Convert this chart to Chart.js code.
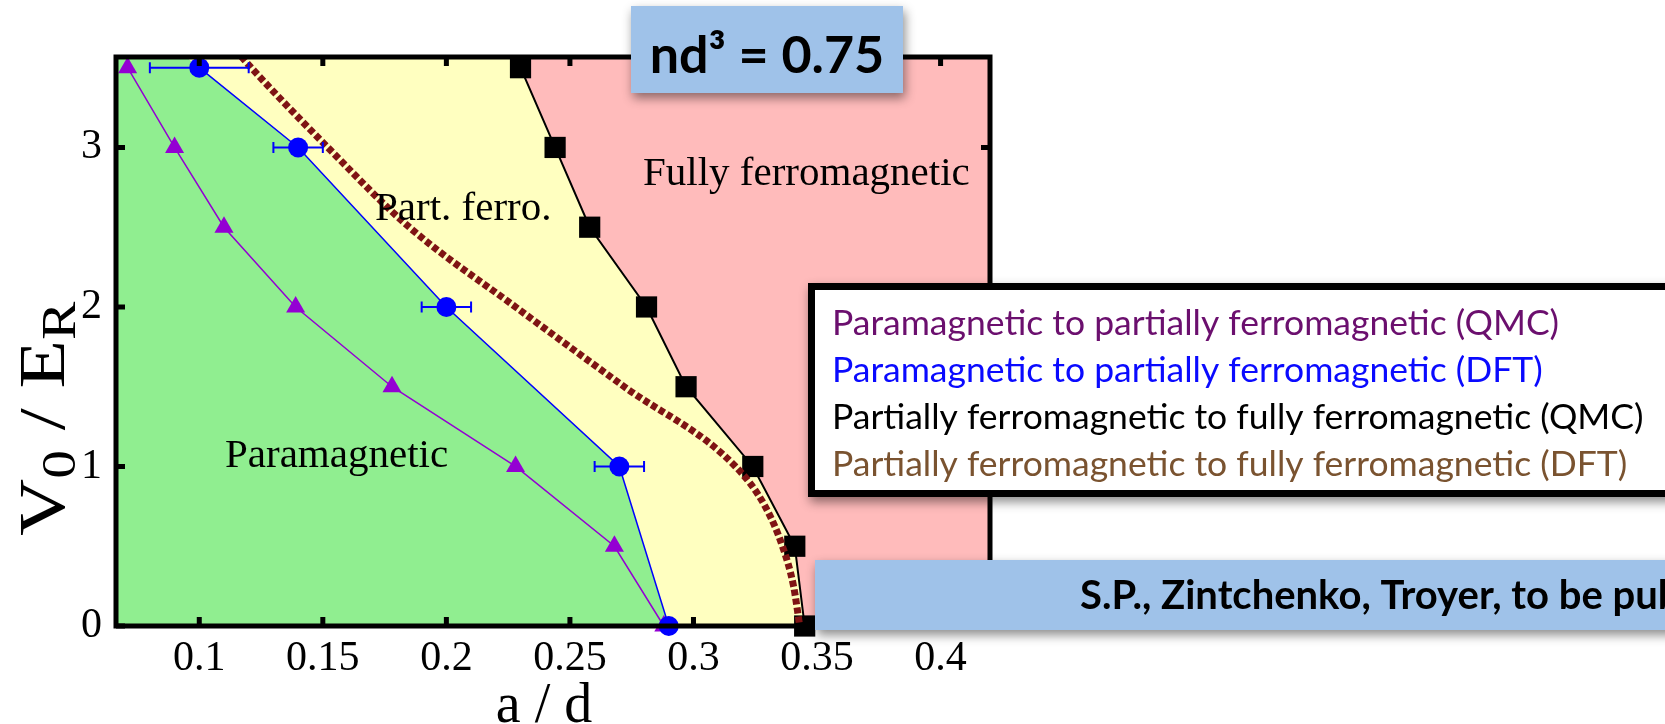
<!DOCTYPE html>
<html>
<head>
<meta charset="utf-8">
<script src="https://cdn.jsdelivr.net/npm/chart.js@4.4.1/dist/chart.umd.min.js"></script>
<style>
html, body { margin: 0; padding: 0; background: #fff; }
canvas { display: block; }
</style>
</head>
<body>
<canvas id="phase" width="1665" height="724"></canvas>
<script>
// ===== DONNEES =====
const xMin = 0.0663, xMax = 0.42
const yMin = 0, yMax = 3.567
const xTicks = [0.1, 0.15, 0.2, 0.25, 0.3, 0.35, 0.4]
const yTicks = [0, 1, 2, 3]

// para -> partiellement ferro (QMC), triangles violets
const qmcParaX = [0.071, 0.09, 0.11, 0.139, 0.178, 0.228, 0.268, 0.288]
const qmcParaY = [3.5, 3, 2.5, 2, 1.5, 1, 0.5, 0]
// para -> partiellement ferro (DFT), cercles bleus + barres d'erreur
const dftParaX = [0.1, 0.14, 0.2, 0.27, 0.29]
const dftParaY = [3.5, 3, 2, 1, 0]
const dftParaErr = [0.02, 0.01, 0.01, 0.01, 0]
// partiellement -> totalement ferro (QMC), carres noirs
const qmcFerroX = [0.23, 0.244, 0.258, 0.281, 0.297, 0.324, 0.341, 0.345]
const qmcFerroY = [3.5, 3, 2.5, 2, 1.5, 1, 0.5, 0]
// partiellement -> totalement ferro (DFT), courbe pointillee
const dftFerroX = [0.117, 0.121, 0.152, 0.185, 0.228, 0.272, 0.317, 0.329, 0.336, 0.3405, 0.343]
const dftFerroY = [3.57, 3.5, 3, 2.5, 2, 1.5, 1, 0.75, 0.5, 0.25, 0]

const legendeTextes = [
    'Paramagnetic to partially ferromagnetic (QMC)',
    'Paramagnetic to partially ferromagnetic (DFT)',
    'Partially ferromagnetic to fully ferromagnetic (QMC)',
    'Partially ferromagnetic to fully ferromagnetic (DFT)'
]
const legendeCouleurs = ['#6b0f6e', '#0a0aff', '#000000', '#7a5330']

const serif = '"Liberation Serif", "Times New Roman", serif'
const sans = 'Lato, "Open Sans", sans-serif'

function points(xs, ys) {
    return xs.map((x, i) => ({ x: x, y: ys[i] }))
}

// zone remplie sous une frontiere, prolongee jusqu'au bord haut du cadre
function zone(xs, ys) {
    const pente = (xs[0] - xs[1]) / (ys[0] - ys[1])
    const xHaut = xs[0] + pente * (yMax - ys[0])
    return [{ x: xMin, y: yMax }, { x: xHaut, y: yMax }].concat(points(xs, ys))
}

// ===== PLUGINS =====
const fond = {
    id: 'fond',
    beforeDatasetsDraw(chart) {
        const { ctx, chartArea: a } = chart
        ctx.save()
        ctx.fillStyle = '#ffbbbb'
        ctx.fillRect(a.left, a.top, a.right - a.left, a.bottom - a.top)
        ctx.restore()
    }
}

const barresErreur = {
    id: 'barresErreur',
    afterDatasetsDraw(chart) {
        const { ctx, scales: { x, y } } = chart
        ctx.save()
        ctx.strokeStyle = '#0000ff'
        ctx.lineWidth = 2
        dftParaX.forEach((v, i) => {
            const e = dftParaErr[i]
            if (!e) return
            const x1 = x.getPixelForValue(v - e)
            const x2 = x.getPixelForValue(v + e)
            const py = y.getPixelForValue(dftParaY[i])
            ctx.beginPath()
            ctx.moveTo(x1, py); ctx.lineTo(x2, py)
            ctx.moveTo(x1, py - 5.5); ctx.lineTo(x1, py + 5.5)
            ctx.moveTo(x2, py - 5.5); ctx.lineTo(x2, py + 5.5)
            ctx.stroke()
        })
        ctx.restore()
    }
}

const cadre = {
    id: 'cadre',
    afterDatasetsDraw(chart) {
        const { ctx, chartArea: a, scales: { x, y } } = chart
        ctx.save()
        ctx.strokeStyle = '#000'
        ctx.lineWidth = 5
        ctx.strokeRect(a.left, a.top, a.right - a.left, a.bottom - a.top)
        // petites graduations vers l'interieur, sur les 4 cotes
        ctx.beginPath()
        xTicks.forEach(v => {
            const px = x.getPixelForValue(v)
            ctx.moveTo(px, a.bottom); ctx.lineTo(px, a.bottom - 9)
            ctx.moveTo(px, a.top); ctx.lineTo(px, a.top + 9)
        })
        yTicks.forEach(v => {
            const py = y.getPixelForValue(v)
            ctx.moveTo(a.left, py); ctx.lineTo(a.left + 9, py)
            ctx.moveTo(a.right, py); ctx.lineTo(a.right - 9, py)
        })
        ctx.stroke()

        // noms des zones
        ctx.fillStyle = '#000'
        ctx.font = '41px ' + serif
        ctx.textBaseline = 'alphabetic'
        ctx.textAlign = 'left'
        ctx.fillText('Part. ferro.', 375, 220)
        ctx.fillText('Fully ferromagnetic', 643, 185)
        ctx.fillText('Paramagnetic', 225, 467)
        ctx.restore()
    }
}

function boiteOmbre(ctx, x, y, w, h, couleur) {
    ctx.save()
    ctx.shadowColor = 'rgba(0,0,0,0.45)'
    ctx.shadowBlur = 10
    ctx.shadowOffsetX = 2
    ctx.shadowOffsetY = 5
    ctx.fillStyle = couleur
    ctx.fillRect(x, y, w, h)
    ctx.restore()
}

const annotations = {
    id: 'annotations',
    afterDraw(chart) {
        const ctx = chart.ctx
        ctx.save()

        // titre de l'axe y : V0 / ER
        ctx.save()
        ctx.translate(64, 536)
        ctx.rotate(-Math.PI / 2)
        ctx.scale(1.2, 1)
        ctx.fillStyle = '#000'
        ctx.textBaseline = 'alphabetic'
        let pos = 0
        const morceaux = [['V', 66, 0], ['0', 48, 11], [' / ', 66, 0], ['E', 66, 0], ['R', 48, 11]]
        morceaux.forEach(m => {
            ctx.font = m[1] + 'px ' + serif
            ctx.fillText(m[0], pos, m[2])
            pos += ctx.measureText(m[0]).width
        })
        ctx.restore()

        // titre de l'axe x
        ctx.fillStyle = '#000'
        ctx.font = '56px ' + serif
        ctx.textAlign = 'center'
        ctx.textBaseline = 'alphabetic'
        ctx.fillText('a / d', 544, 722)

        // encadre nd3
        boiteOmbre(ctx, 631, 6, 272, 87, '#9fc2e9')
        ctx.fillStyle = '#000'
        ctx.font = 'bold 52px ' + sans
        ctx.fillText('nd³ = 0.75', 767, 73)

        // legende
        boiteOmbre(ctx, 808, 283, 900, 214, '#ffffff')
        ctx.strokeStyle = '#000'
        ctx.lineWidth = 7
        ctx.strokeRect(811.5, 286.5, 900, 207)
        ctx.textAlign = 'left'
        ctx.textBaseline = 'middle'
        ctx.font = '35.5px ' + sans
        legendeTextes.forEach((t, i) => {
            ctx.fillStyle = legendeCouleurs[i]
            ctx.fillText(t, 832, 324 + i * 46.7)
        })

        // reference
        boiteOmbre(ctx, 815, 560, 900, 70, '#9fc2e9')
        ctx.fillStyle = '#000'
        ctx.font = 'bold 40px ' + sans
        ctx.fillText('S.P., Zintchenko, Troyer, to be published', 1080, 596)

        ctx.restore()
    }
}

// ===== GRAPHIQUE =====
const tickFont = { family: serif, size: 42 }

new Chart(document.getElementById('phase'), {
    type: 'line',
    data: {
        datasets: [
            {
                label: 'zone partiellement ferro',
                data: zone(qmcFerroX, qmcFerroY),
                backgroundColor: '#ffffc0',
                borderColor: 'transparent',
                borderWidth: 0,
                pointRadius: 0,
                fill: 'start',
                order: 20
            },
            {
                label: 'zone para',
                data: zone(dftParaX, dftParaY),
                backgroundColor: '#90ee90',
                borderColor: 'transparent',
                borderWidth: 0,
                pointRadius: 0,
                fill: 'start',
                order: 19
            },
            {
                label: legendeTextes[0],
                data: points(qmcParaX, qmcParaY),
                borderColor: '#9400d3',
                borderWidth: 1.5,
                pointStyle: 'triangle',
                pointRadius: 11,
                pointBackgroundColor: '#9400d3',
                pointBorderWidth: 0,
                fill: false,
                clip: false,
                order: 4
            },
            {
                label: legendeTextes[1],
                data: points(dftParaX, dftParaY),
                borderColor: '#0000ff',
                borderWidth: 1.5,
                pointStyle: 'circle',
                pointRadius: 10,
                pointBackgroundColor: '#0000ff',
                pointBorderWidth: 0,
                fill: false,
                clip: false,
                order: 3
            },
            {
                label: legendeTextes[2],
                data: points(qmcFerroX, qmcFerroY),
                borderColor: '#000000',
                borderWidth: 2,
                pointStyle: 'rect',
                pointRadius: 15,
                pointBackgroundColor: '#000000',
                pointBorderWidth: 0,
                fill: false,
                clip: false,
                order: 2
            },
            {
                label: legendeTextes[3],
                data: points(dftFerroX, dftFerroY),
                borderColor: '#7f1414',
                borderWidth: 7,
                borderDash: [6, 3],
                pointRadius: 0,
                cubicInterpolationMode: 'monotone',
                fill: false,
                order: 1
            }
        ]
    },
    options: {
        responsive: false,
        animation: false,
        layout: { padding: { top: 57, right: 675, bottom: 0, left: 0 } },
        plugins: { legend: { display: false }, tooltip: { enabled: false } },
        scales: {
            x: {
                type: 'linear',
                min: xMin,
                max: xMax,
                grid: { display: false, drawTicks: false },
                border: { display: false },
                afterBuildTicks: s => { s.ticks = xTicks.map(v => ({ value: v })) },
                afterFit: s => { s.height = 98 },
                ticks: { font: tickFont, color: '#000', padding: 8, maxRotation: 0, autoSkip: false, callback: v => String(v) }
            },
            y: {
                type: 'linear',
                min: yMin,
                max: yMax,
                grid: { display: false, drawTicks: false },
                border: { display: false },
                afterBuildTicks: s => { s.ticks = yTicks.map(v => ({ value: v })) },
                afterFit: s => { s.width = 116 },
                ticks: { font: tickFont, color: '#000', padding: 14, callback: v => String(v) }
            }
        }
    },
    plugins: [fond, barresErreur, cadre, annotations]
})
</script>
</body>
</html>
